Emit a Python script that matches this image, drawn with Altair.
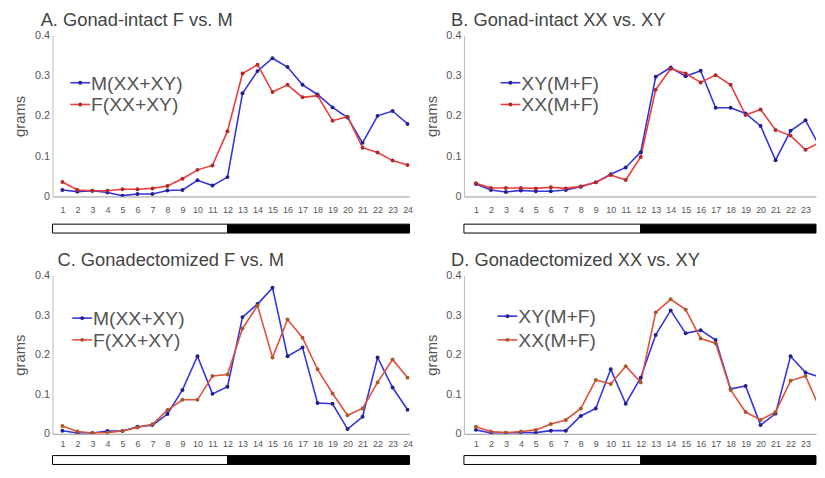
import altair as alt
import pandas as pd

hours = list(range(1, 25))

# Panel A: Gonad-intact F vs. M
a_m = [0.016, 0.012, 0.014, 0.010, 0.002, 0.006, 0.006, 0.015, 0.016, 0.040, 0.027, 0.048,
       0.256, 0.311, 0.343, 0.321, 0.277, 0.253, 0.221, 0.196, 0.133, 0.200, 0.212, 0.180]
a_f = [0.036, 0.016, 0.014, 0.014, 0.018, 0.018, 0.020, 0.026, 0.044, 0.066, 0.077, 0.162,
       0.305, 0.327, 0.259, 0.277, 0.246, 0.250, 0.188, 0.198, 0.121, 0.109, 0.089, 0.078]
# Panel B: Gonad-intact XX vs. XY
b_xy = [0.031, 0.016, 0.011, 0.015, 0.013, 0.013, 0.016, 0.024, 0.035, 0.055, 0.072, 0.110,
        0.297, 0.320, 0.298, 0.312, 0.220, 0.220, 0.206, 0.175, 0.090, 0.163, 0.189, 0.120]
b_xx = [0.033, 0.021, 0.021, 0.021, 0.020, 0.023, 0.020, 0.025, 0.035, 0.053, 0.041, 0.098,
        0.265, 0.317, 0.305, 0.283, 0.301, 0.277, 0.202, 0.216, 0.165, 0.151, 0.116, 0.135]
# Panel C: Gonadectomized F vs. M
c_m = [0.008, 0.002, 0.002, 0.007, 0.007, 0.018, 0.022, 0.050, 0.111, 0.196, 0.101, 0.119,
       0.295, 0.328, 0.369, 0.196, 0.218, 0.078, 0.076, 0.012, 0.043, 0.193, 0.117, 0.061]
c_f = [0.020, 0.006, 0.002, 0.003, 0.007, 0.016, 0.024, 0.060, 0.086, 0.086, 0.146, 0.150,
       0.266, 0.324, 0.193, 0.289, 0.243, 0.163, 0.102, 0.047, 0.064, 0.130, 0.188, 0.142]
# Panel D: Gonadectomized XX vs. XY
d_xy = [0.010, 0.002, 0.002, 0.003, 0.003, 0.008, 0.008, 0.045, 0.064, 0.163, 0.076, 0.142,
        0.250, 0.312, 0.254, 0.262, 0.237, 0.113, 0.121, 0.022, 0.051, 0.196, 0.155, 0.143]
d_xx = [0.018, 0.006, 0.003, 0.006, 0.010, 0.025, 0.035, 0.064, 0.136, 0.126, 0.171, 0.130,
        0.307, 0.340, 0.314, 0.241, 0.229, 0.111, 0.055, 0.035, 0.055, 0.134, 0.146, 0.060]

titles = ["A. Gonad-intact F vs. M", "B. Gonad-intact XX vs. XY",
          "C. Gonadectomized F vs. M", "D. Gonadectomized XX vs. XY"]
names_sex = ["M(XX+XY)", "F(XX+XY)"]
names_chr = ["XY(M+F)", "XX(M+F)"]
y_ticks = [0, 0.1, 0.2, 0.3, 0.4]

BLUE = "#3535e0"
BLUE_PT = "#22228a"
RED = "#ea3c3c"
RED_PT = "#b02a2a"
RED2 = "#e2503a"
RED2_PT = "#a85a2a"
FONT = "Liberation Sans"


def panel(title, names, s1, s2, red, red_pt, width, height, dom, xvals, title_dx,
          legend_x, legend_y, legend_dy, bar_off, lab_pad):
    df = pd.DataFrame({
        "hour": hours * 2,
        "grams": s1 + s2,
        "series": [names[0]] * 24 + [names[1]] * 24,
    })
    xs = alt.Scale(domain=dom, nice=False, zero=False)
    ys = alt.Scale(domain=[0, 0.4], nice=False)
    x_axis = alt.Axis(values=xvals, title=None, ticks=False, grid=False,
                      domainColor="#999999", labelFontSize=9, labelColor="#555555",
                      labelPadding=lab_pad, labelFont=FONT, labelFlush=False,
                      labelOverlap=False, labelBound=False)
    y_axis = alt.Axis(values=y_ticks, title="grams", grid=False, ticks=False,
                      domainColor="#bbbbbb", labelFontSize=11, labelColor="#555555",
                      labelExpr="datum.value == 0 ? '0' : format(datum.value, '.1f')",
                      labelPadding=3, labelFont=FONT, titleFont=FONT, labelOverlap=False,
                      titleFontSize=15, titleFontWeight="normal", titleColor="#555555",
                      titlePadding=1, minExtent=24, maxExtent=24)
    cscale = alt.Scale(domain=names, range=[BLUE, red])
    pscale = alt.Scale(domain=names, range=[BLUE_PT, red_pt])
    base = alt.Chart(df)
    line = base.mark_line(strokeWidth=1.6, clip=True).encode(
        x=alt.X("hour:Q", scale=xs, axis=x_axis),
        y=alt.Y("grams:Q", scale=ys, axis=y_axis),
        color=alt.Color("series:N", scale=cscale, legend=None),
        detail="series:N",
    )
    pts = base.mark_circle(size=16, opacity=1, clip=True).encode(
        x=alt.X("hour:Q", scale=xs, axis=x_axis),
        y=alt.Y("grams:Q", scale=ys, axis=y_axis),
        color=alt.Color("series:N", scale=pscale, legend=None),
    )
    # light/dark bar
    bar_df = pd.DataFrame({"start": [dom[0], 12], "end": [12, dom[1]], "phase": ["light", "dark"]})
    bar = alt.Chart(bar_df).mark_rect(stroke="#000000", strokeWidth=1).encode(
        x=alt.X("start:Q", scale=xs, axis=x_axis),
        x2="end:Q",
        y=alt.value(height + bar_off),
        y2=alt.value(height + bar_off + 9),
        fill=alt.Fill("phase:N", scale=alt.Scale(domain=["light", "dark"], range=["#ffffff", "#000000"]),
                      legend=None),
    )
    layers = [line, pts, bar]
    # legend
    for i, (nm, col, pcol) in enumerate(zip(names, [BLUE, red], [BLUE_PT, red_pt])):
        ly = legend_y + i * legend_dy
        ldf = pd.DataFrame({"label": [nm]})
        lc = alt.Chart(ldf)
        layers.append(lc.mark_rule(color=col, strokeWidth=1.6).encode(
            x=alt.value(legend_x), x2=alt.value(legend_x + 20), y=alt.value(ly)))
        layers.append(lc.mark_circle(size=16, color=pcol, opacity=1).encode(
            x=alt.value(legend_x + 10), y=alt.value(ly)))
        layers.append(lc.mark_text(align="left", baseline="middle", fontSize=19.5, font=FONT,
                                   color="#555555").encode(
            x=alt.value(legend_x + 21), y=alt.value(ly + 1), text="label:N"))
    return alt.layer(*layers).resolve_scale(color="independent").properties(
        width=width, height=height,
        title=alt.TitleParams(title, anchor="start", frame="group", dx=title_dx, fontSize=18.5,
                              font=FONT, fontWeight="normal", color="#444444", offset=0),
    )


left_dom = [0.34, 24.13]
right_dom = [0.2, 23.7]
all_x = hours
right_x = hours[:-1]

pA = panel(titles[0], names_sex, a_m, a_f, RED, RED_PT, 361, 163, left_dom, all_x, -12, 18, 48, 22, 28, 9)
pB = panel(titles[1], names_chr, b_xy, b_xx, RED, RED_PT, 356, 163, right_dom, right_x, -13, 37, 48, 22, 28, 9)
pC = panel(titles[2], names_sex, c_m, c_f, RED2, RED2_PT, 361, 160, left_dom, all_x, 5, 20, 43, 22, 22, 6)
pD = panel(titles[3], names_chr, d_xy, d_xx, RED2, RED2_PT, 356, 160, right_dom, right_x, -13, 34, 41, 24, 22, 6)

chart = alt.concat(
    pA, pB, pC, pD, columns=2,
    spacing={"row": 80, "column": 55}, bounds="flush",
).properties(
    padding={"left": 5, "top": 0, "right": 0, "bottom": 0},
).configure_view(stroke=None).configure_axis(labelOverlap=False)

chart.save("out.html", embed_options={"renderer": "svg", "actions": False})
